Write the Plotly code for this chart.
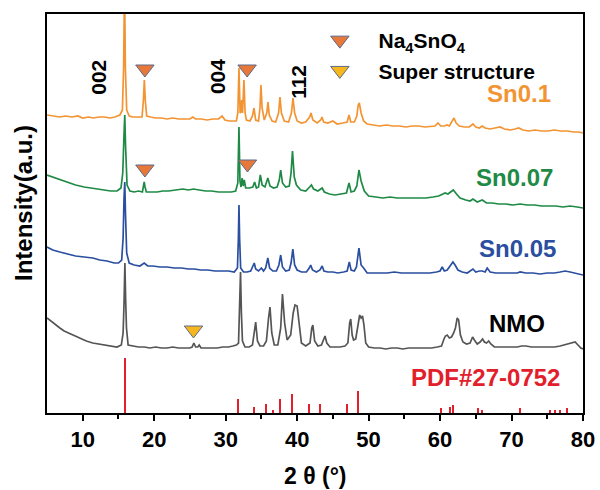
import plotly.graph_objects as go

# ---------------- data ----------------
# 2-theta (deg), stacked intensity (a.u.)
sn01_points = [(5.0,298),(5.8,297),(6.8,296),(7.6,297),(8.5,296),(9.3,297),(10.0,295),(10.8,296),(11.5,295),(12.3,296),(13.0,296),(13.8,295),(14.5,296),(15.2,298),(15.55,303),(15.72,345),(15.85,430),(15.97,345),(16.15,303),(16.5,297),(17.0,296),(17.6,296),(18.3,296),(18.48,312),(18.62,333),(18.76,312),(18.95,297),(19.5,296),(20.2,295),(21.0,295),(21.8,294),(22.6,295),(23.4,294),(24.2,294),(25.0,294),(25.4,296),(25.8,294),(26.6,294),(27.4,293),(28.2,294),(29.0,294),(29.5,297),(29.9,293),(30.5,292),(31.0,292),(31.5,292),(31.7,300),(31.86,345),(32.02,300),(32.12,301),(32.24,313),(32.36,300),(32.56,333),(32.72,300),(32.9,293),(33.4,292),(33.75,297),(33.96,305),(34.2,293),(34.6,292),(34.8,305),(34.94,328),(35.1,305),(35.4,293),(35.75,300),(35.92,311),(36.1,298),(36.5,292),(37.0,291),(37.4,300),(37.6,316),(37.8,300),(38.2,292),(38.8,291),(39.2,300),(39.42,315),(39.65,300),(40.0,292),(40.6,290),(41.2,291),(41.75,296),(41.94,300),(42.2,293),(42.8,290),(43.3,293),(43.48,296),(43.7,291),(44.3,290),(45.0,292),(45.6,289),(46.4,290),(47.0,291),(47.26,298),(47.5,291),(48.0,291),(48.35,297),(48.55,308),(48.7,310),(48.95,300),(49.3,292),(49.8,289),(50.6,288),(51.5,287),(52.5,288),(53.4,287),(54.3,287),(55.2,286),(56.1,287),(57.0,287),(57.9,286),(58.7,287),(59.3,287),(59.7,290),(60.1,287),(60.6,287),(61.0,288),(61.3,287),(61.75,292),(61.95,295),(62.25,290),(62.7,287),(63.4,286),(64.1,286),(64.6,289),(65.0,286),(65.5,285),(65.9,287),(66.3,285),(67.0,284),(67.7,285),(68.4,286),(69.0,284),(69.8,283),(70.5,284),(71.0,285),(71.6,283),(72.4,282),(73.3,283),(74.2,282),(75.1,282),(76.0,283),(76.9,282),(77.8,282),(78.7,281),(79.4,281),(80.0,280)]

sn007_points = [(5.0,238),(5.8,236),(6.8,233),(7.8,231),(9.0,228),(10.2,226),(11.4,225),(12.2,224),(13.0,223),(13.9,222),(14.8,222),(15.35,225),(15.6,240),(15.76,275),(15.88,298),(15.99,268),(16.2,228),(16.6,222),(17.2,221),(17.8,222),(18.35,221),(18.5,227),(18.6,231),(18.72,226),(18.9,221),(19.6,221),(20.4,221),(21.2,222),(22.0,222),(23.0,223),(24.0,224),(24.8,223),(25.5,224),(26.3,223),(27.2,222),(28.0,222),(29.0,221),(30.0,221),(30.8,221),(31.4,222),(31.7,230),(31.86,286),(32.0,232),(32.15,226),(32.3,235),(32.45,227),(32.6,233),(32.8,225),(33.3,225),(33.8,226),(34.05,231),(34.3,225),(34.6,226),(34.85,238),(35.1,228),(35.5,226),(35.9,235),(36.2,227),(36.7,225),(37.2,226),(37.5,233),(37.7,243),(37.95,230),(38.4,226),(38.9,227),(39.15,240),(39.35,262),(39.6,236),(39.9,228),(40.5,223),(41.2,222),(41.75,226),(42.0,228),(42.3,224),(42.9,222),(43.3,224),(43.5,225),(43.8,221),(44.5,219),(45.3,218),(46.2,219),(46.9,220),(47.26,230),(47.55,221),(48.0,222),(48.35,227),(48.65,243),(48.95,232),(49.4,222),(50.0,217),(51.0,216),(52.0,215),(53.0,216),(54.0,215),(55.0,215),(56.0,215),(57.0,215),(58.0,215),(59.0,216),(59.8,217),(60.4,219),(60.7,220),(61.1,219),(61.5,221),(61.85,223),(62.3,219),(62.8,215),(63.6,213),(64.2,212),(64.6,214),(65.2,211),(65.9,213),(66.5,210),(67.3,210),(68.2,209),(69.2,209),(70.2,208),(71.2,209),(72.2,208),(73.2,208),(74.2,207),(75.2,207),(76.2,207),(77.2,206),(78.2,207),(79.2,206),(80.0,205)]

sn005_points = [(5.0,166),(5.8,163),(6.8,161),(7.8,159),(9.0,157),(10.2,156),(11.4,155),(12.4,153),(13.4,152),(14.4,150),(15.0,150),(15.45,153),(15.65,175),(15.78,215),(15.88,231),(15.98,200),(16.15,160),(16.5,150),(17.2,148),(18.0,147),(18.6,150),(19.1,147),(19.8,147),(20.8,146),(21.8,146),(22.8,145),(23.8,145),(24.8,144),(25.6,144),(26.5,143),(27.5,143),(28.5,142),(29.5,142),(30.4,142),(31.2,141),(31.65,145),(31.78,175),(31.86,208),(31.95,175),(32.1,145),(32.5,141),(33.0,141),(33.5,142),(33.8,146),(34.0,150),(34.2,144),(34.6,142),(35.0,145),(35.3,142),(35.6,145),(35.9,155),(36.15,145),(36.6,142),(37.1,142),(37.45,148),(37.7,158),(37.95,146),(38.4,142),(38.9,143),(39.15,150),(39.4,164),(39.65,148),(40.0,143),(40.6,141),(41.3,141),(41.7,145),(41.9,148),(42.15,143),(42.7,141),(43.2,143),(43.5,147),(43.75,142),(44.3,141),(45.0,141),(45.7,140),(46.5,141),(47.0,142),(47.3,151),(47.55,143),(48.0,142),(48.3,146),(48.65,165),(48.95,148),(49.3,145),(49.8,140),(50.6,140),(51.6,140),(52.6,140),(53.6,141),(54.6,140),(55.6,140),(56.6,140),(57.6,140),(58.6,140),(59.5,141),(60.0,142),(60.3,146),(60.6,142),(61.0,143),(61.5,148),(61.8,151),(62.1,148),(62.5,143),(63.1,141),(63.8,140),(64.6,144),(65.0,141),(65.5,142),(65.9,142),(66.3,141),(66.6,145),(67.0,141),(67.8,140),(68.8,140),(69.8,140),(70.8,140),(71.2,141),(72.0,140),(73.0,140),(74.0,139),(75.0,140),(76.0,140),(76.8,141),(77.5,142),(78.2,141),(78.9,140),(79.5,139),(80.0,138)]

nmo_points = [(5.0,95),(5.5,92),(6.0,89),(6.8,85),(7.4,82),(8.0,80),(8.8,77),(9.6,75),(10.5,72),(11.4,70),(12.2,69),(13.0,68),(13.9,67),(14.8,66),(15.4,68),(15.65,80),(15.78,110),(15.9,150),(16.0,115),(16.12,85),(16.35,68),(17.0,67),(17.8,66),(18.6,66),(19.4,65),(20.2,66),(21.0,65),(21.8,65),(22.6,66),(23.4,65),(24.2,65),(25.0,65),(25.3,66),(25.55,70),(25.8,66),(26.1,66),(26.3,68),(26.55,65),(27.2,65),(28.0,65),(28.8,65),(29.6,66),(30.4,66),(31.0,67),(31.5,68),(31.8,70),(31.95,100),(32.08,141),(32.2,100),(32.35,72),(32.7,66),(33.3,66),(33.75,68),(34.0,80),(34.2,91),(34.45,72),(34.8,67),(35.3,67),(35.7,72),(36.0,95),(36.2,106),(36.45,80),(36.8,68),(37.3,68),(37.7,85),(37.95,119),(38.25,90),(38.6,73),(38.9,76),(39.1,78),(39.45,100),(39.7,108),(40.0,107),(40.25,90),(40.6,70),(41.2,67),(41.8,70),(42.05,85),(42.2,88),(42.45,72),(42.9,67),(43.4,68),(43.75,75),(43.9,77),(44.15,70),(44.6,66),(45.3,66),(46.0,66),(46.7,67),(47.1,70),(47.35,90),(47.5,94),(47.7,78),(47.9,73),(48.2,74),(48.5,90),(48.75,98),(48.95,95),(49.15,97),(49.35,88),(49.6,70),(50.0,66),(50.8,65),(51.6,65),(52.4,64),(53.2,65),(54.0,65),(54.8,64),(55.6,65),(56.4,65),(57.2,65),(58.0,65),(58.8,65),(59.6,66),(60.2,67),(60.55,74),(60.75,77),(61.0,78),(61.3,75),(61.6,76),(61.9,80),(62.15,85),(62.4,95),(62.6,93),(62.85,78),(63.2,71),(63.7,69),(64.2,70),(64.55,76),(64.8,73),(65.2,69),(65.6,71),(65.95,74),(66.2,71),(66.5,70),(66.8,72),(67.1,69),(67.6,66),(68.4,66),(69.2,66),(70.0,66),(70.8,66),(71.4,67),(72.0,67),(72.8,66),(73.6,66),(74.4,66),(75.2,66),(76.0,66),(76.8,67),(77.4,68),(78.0,69),(78.5,70),(78.9,71),(79.3,68),(79.7,65),(80.0,64)]

# PDF#27-0752 reference sticks
pdf_theta = [15.85, 31.75, 33.9, 35.7, 36.6, 37.6, 39.25, 41.7, 43.2, 47.0, 48.45, 60.1, 61.45, 61.85, 65.3, 65.9, 71.2, 75.4, 76.1, 76.8, 77.7]
pdf_int   = [55, 14, 6, 9, 3, 14, 19, 9, 9, 9, 22, 5, 6, 8, 5, 3, 5, 3, 3, 3, 5]

# phase markers
na4sno4_theta = [18.7, 33.0, 18.7, 33.05]
na4sno4_int   = [344, 344, 244, 249]
super_theta = [25.5]
super_int   = [83]

series_names = ["Sn0.1", "Sn0.07", "Sn0.05", "NMO"]
hkl_labels = ["002", "004", "112"]

# ---------------- styles ----------------
FONT = "Liberation Sans"
colors = {"Sn0.1": "#F39433", "Sn0.07": "#1E8A45", "Sn0.05": "#2A4EA0", "NMO": "#555555"}
label_colors = {"Sn0.1": "#F39433", "Sn0.07": "#1E8A45", "Sn0.05": "#2A4EA0", "NMO": "#000000"}
RED = "#E2202B"
NB = "\u00a0\u00a0"

fig = go.Figure()

for name, pts in zip(series_names, [sn01_points, sn007_points, sn005_points, nmo_points]):
    xs = [p[0] for p in pts]
    ys = [p[1] for p in pts]
    fig.add_trace(go.Scatter(x=xs, y=ys, mode="lines", showlegend=False,
                             line=dict(color=colors[name], width=1.7)))

fig.add_trace(go.Bar(x=pdf_theta, y=pdf_int, width=0.28, marker=dict(color=RED, line=dict(width=0)),
                     showlegend=False))

fig.add_trace(go.Scatter(x=na4sno4_theta, y=na4sno4_int, mode="markers",
                         name=NB + "Na<sub>4</sub>SnO<sub>4</sub>",
                         marker=dict(symbol="triangle-down", size=16, color="#E8783A",
                                     line=dict(color="#5C6A8A", width=1))))
fig.add_trace(go.Scatter(x=super_theta, y=super_int, mode="markers",
                         name=NB + "Super structure",
                         marker=dict(symbol="triangle-down", size=16, color="#F6B71E",
                                     line=dict(color="#5C6A8A", width=1))))

annotations = []
# series labels
label_pos = {"Sn0.1": (75.8, 320), "Sn0.07": (76.1, 236), "Sn0.05": (76.5, 165), "NMO": (75.0, 90)}
for name in series_names:
    x, y = label_pos[name]
    annotations.append(dict(x=x, y=y, xref="x", yref="y", text=name, showarrow=False,
                            xanchor="right", yanchor="middle",
                            font=dict(family=FONT, size=24, color=label_colors[name], weight="bold")))
annotations.append(dict(x=77.1, y=36, xref="x", yref="y", text="PDF#27-0752", showarrow=False,
                        xanchor="right", yanchor="middle",
                        font=dict(family=FONT, size=24, color=RED, weight="bold")))
# hkl labels
for lab, (x, y) in zip(hkl_labels, [(12.1, 336), (28.8, 336), (40.1, 331)]):
    annotations.append(dict(x=x, y=y, xref="x", yref="y", text=lab, showarrow=False, textangle=-90,
                            xanchor="center", yanchor="middle",
                            font=dict(family=FONT, size=21, color="black", weight="bold")))
# axis titles
annotations.append(dict(x=0.5, y=-0.158, xref="paper", yref="paper", text="2 θ (°)", showarrow=False,
                        xanchor="center", yanchor="middle",
                        font=dict(family=FONT, size=23, color="black", weight="bold")))
annotations.append(dict(x=-0.045, y=0.526, xref="paper", yref="paper", text="Intensity(a.u.)",
                        showarrow=False, textangle=-90, xanchor="center", yanchor="middle",
                        font=dict(family=FONT, size=24, color="black", weight="bold")))

fig.update_layout(
    width=600, height=490,
    margin=dict(l=47, r=17, t=14, b=77, autoexpand=False),
    plot_bgcolor="white", paper_bgcolor="white",
    annotations=annotations,
    showlegend=True,
    legend=dict(x=0.496, y=0.985, xanchor="left", yanchor="top", bgcolor="rgba(0,0,0,0)",
                font=dict(family=FONT, size=21, color="black", weight="bold"),
                itemsizing="trace", itemwidth=44),
    bargap=0,
)
fig.update_xaxes(range=[5, 80], tickvals=[10, 20, 30, 40, 50, 60, 70, 80],
                 ticks="outside", ticklen=6, tickwidth=2, tickcolor="black",
                 minor=dict(tickvals=[15, 25, 35, 45, 55, 65, 75], ticks="outside", ticklen=4,
                            tickwidth=2, tickcolor="black"),
                 showline=True, linewidth=2, linecolor="black", mirror=True,
                 showgrid=False, zeroline=False,
                 tickfont=dict(family=FONT, size=22, color="black", weight="bold"))
fig.update_yaxes(range=[0, 399], showticklabels=False, ticks="",
                 showline=True, linewidth=2, linecolor="black", mirror=True,
                 showgrid=False, zeroline=False)

fig.write_html("out.html")
